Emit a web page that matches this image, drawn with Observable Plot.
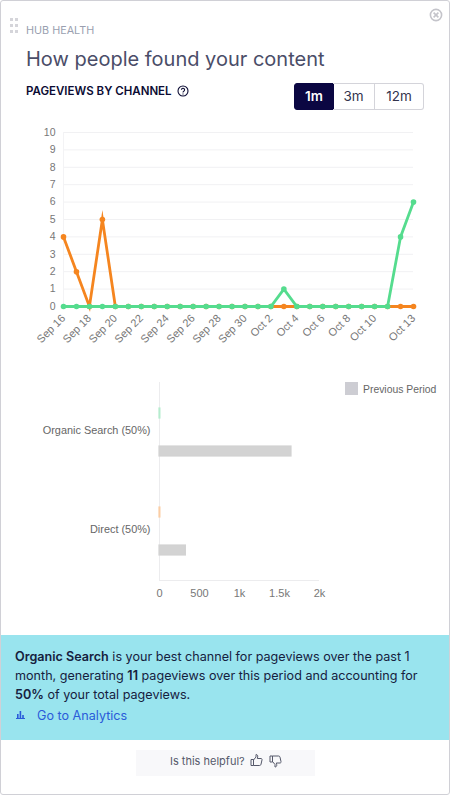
<!DOCTYPE html>
<html><head><meta charset="utf-8">
<script src="https://cdn.jsdelivr.net/npm/d3@7"></script>
<script src="https://cdn.jsdelivr.net/npm/@observablehq/plot@0.6"></script>
<style>
html,body{margin:0;padding:0;background:#fff}
#card{position:relative;width:450px;height:795px;overflow:hidden;font-family:Inter,sans-serif;background:#fff}
#frame{position:absolute;left:0;top:0;width:448px;height:793px;border:1px solid #d0d0d6;border-radius:3px;pointer-events:none;z-index:5}
.a{position:absolute;white-space:nowrap}
#line,#bars{position:absolute;left:0}
#line{top:120px}#bars{top:369px}
svg text{font-family:"Liberation Sans",Arial,sans-serif}
.btn{position:absolute;top:83px;height:25px;line-height:25px;text-align:center;font-size:13.5px;color:#33334d;border:1px solid #d4d4da;box-sizing:content-box}
#band{position:absolute;left:1px;top:635px;width:448px;height:105px;background:#99e4ee}
#band div{position:absolute;left:14px;white-space:nowrap;font-size:12.6px;color:#16213e}
#band b{font-weight:600}
</style></head><body>
<div id="card">
<div id="frame"></div>
<svg class="a" style="left:10px;top:18px" width="8" height="16" fill="#d5d5da"><rect x="0" y="0" width="3" height="3"/><rect x="5" y="0" width="3" height="3"/><rect x="0" y="6" width="3" height="3"/><rect x="5" y="6" width="3" height="3"/><rect x="0" y="12" width="3" height="3"/><rect x="5" y="12" width="3" height="3"/></svg>
<svg class="a" style="left:429px;top:8px" width="14" height="14" fill="none" stroke="#c4c4ca" stroke-width="1.6"><circle cx="7" cy="7" r="5.6"/><path d="M4.6 4.6L9.4 9.4M9.4 4.6L4.6 9.4"/></svg>
<div class="a" style="left:26px;top:24px;font-size:10.8px;line-height:14px;color:#9a9fb0">HUB HEALTH</div>
<div class="a" style="left:26px;top:47px;font-size:20px;line-height:24px;color:#4a4d68">How people found your content</div>
<div class="a" style="left:26px;top:84px;font-size:11.5px;line-height:14px;font-weight:600;color:#0b0b33">PAGEVIEWS BY CHANNEL</div>
<svg class="a" style="left:177px;top:85px" width="12" height="12" fill="none" stroke="#0b0b33" stroke-width="1.1"><circle cx="6" cy="6" r="5"/><path d="M4.4 4.8a1.6 1.6 0 1 1 2.4 1.400c-.6.3-.8.6-.8 1.200"/><path d="M6 8.600v.9"/></svg>
<div class="btn" style="left:294px;width:38px;background:#0b0742;color:#fff;font-weight:600;border-color:#0b0742;border-radius:3px 0 0 3px">1m</div>
<div class="btn" style="left:333px;width:41px;border-left:0">3m</div>
<div class="btn" style="left:375px;width:48px;border-left:0;border-radius:0 3px 3px 0">12m</div>
<div id="line"></div>
<div id="bars"></div>
<div class="a" style="left:159px;top:580px;width:160px;height:1px;background:#ececee"></div>
<svg class="a" style="left:345px;top:382px" width="13" height="13"><rect width="13" height="13" fill="#cdcdd3"/></svg>
<div class="a" style="left:363px;top:383px;font:10.4px/13px 'Liberation Sans',Arial,sans-serif;color:#666">Previous Period</div>
<div id="band">
<div style="top:13px;line-height:18px"><b>Organic Search</b> is your best channel for pageviews over the past 1</div>
<div style="top:32px;line-height:18px">month, generating <b>11</b> pageviews over this period and accounting for</div>
<div style="top:51px;line-height:18px"><b>50%</b> of your total pageviews.</div>
<svg style="position:absolute;left:15px;top:75px" width="10" height="10" fill="#2a5bd9"><rect x="0" y="8" width="9" height="1"/><rect x="1" y="4" width="1.6" height="4"/><rect x="3.6" y="1" width="1.6" height="7"/><rect x="6.2" y="5" width="1.6" height="3"/></svg>
<div style="left:36px;top:72px;line-height:18px;color:#2a5bd9">Go to Analytics</div>
</div>
<div class="a" style="left:136px;top:750px;width:179px;height:26px;background:#f8f8fa"></div>
<div class="a" style="left:170px;top:754px;font-size:11px;line-height:15px;color:#55586a">Is this helpful?</div>
<svg class="a" style="left:250px;top:753px" width="13" height="14" fill="none" stroke="#55586a" stroke-width="1"><path d="M1 6.500h2.500v6H1zM3.500 7l2.500-3V1.500c1.200 0 2 1 1.700 2.400L7.300 5.500H11c.8 0 1.200.7 1 1.400l-1 4.400c-.2.7-.6 1.200-1.400 1.200H3.500"/></svg>
<svg class="a" style="left:269px;top:755px" width="13" height="14" fill="none" stroke="#55586a" stroke-width="1"><path d="M1 1h2.500v6H1zM3.500 6.500l2.500 3v2.500c1.200 0 2-1 1.700-2.400L7.300 8H11c.8 0 1.200-.7 1-1.400L11 2.200C10.800 1.500 10.400 1 9.600 1H3.500"/></svg>
</div>
<script>
const dates = ["2023-09-16","2023-09-17","2023-09-18","2023-09-19","2023-09-20","2023-09-21","2023-09-22","2023-09-23","2023-09-24","2023-09-25","2023-09-26","2023-09-27","2023-09-28","2023-09-29","2023-09-30","2023-10-01","2023-10-02","2023-10-03","2023-10-04","2023-10-05","2023-10-06","2023-10-07","2023-10-08","2023-10-09","2023-10-10","2023-10-11","2023-10-12","2023-10-13"].map(d=>new Date(d));
const directValues  = [4,2,0,5,0,0,0,0,0,0,0,0,0,0,0,0,0,0,0,0,0,0,0,0,0,0,0,0];
const organicValues = [0,0,0,0,0,0,0,0,0,0,0,0,0,0,0,0,0,1,0,0,0,0,0,0,0,0,4,6];
const tickDates = ["2023-09-16","2023-09-18","2023-09-20","2023-09-22","2023-09-24","2023-09-26","2023-09-28","2023-09-30","2023-10-02","2023-10-04","2023-10-06","2023-10-08","2023-10-10","2023-10-13"].map(d=>new Date(d));
const yTicks = [0,1,2,3,4,5,6,7,8,9,10];
const ORANGE="#f5851f", GREEN="#55dc8e";
const direct = dates.map((date,i)=>({date,value:directValues[i]}));
const organic = dates.map((date,i)=>({date,value:organicValues[i]}));
const fmt = d3.utcFormat("%b %-d");
const lineOpts = {x:"date",y:"value",strokeWidth:2.8,strokeLinejoin:"miter",strokeMiterlimit:10};

document.getElementById("line").append(Plot.plot({
  width:450,height:240,marginLeft:63,marginRight:37,marginTop:12,marginBottom:54,
  style:{background:"transparent",fontSize:"11px",overflow:"visible"},
  x:{type:"utc",domain:[dates[0],dates[dates.length-1]]},
  y:{domain:[0,10]},
  marks:[
    Plot.gridY(yTicks,{stroke:"#f1f1f3",strokeOpacity:1,strokeWidth:1}),
    Plot.ruleX([dates[0]],{stroke:"#f3f3f5"}),
    Plot.axisY(yTicks,{tickSize:0,tickPadding:8,label:null,color:"#777",fontSize:10.5}),
    Plot.axisX(tickDates,{tickSize:0,tickPadding:10,label:null,tickRotate:-45,tickFormat:fmt,color:"#777",fontSize:11}),
    Plot.line(direct,{...lineOpts,stroke:ORANGE}),
    Plot.dot(direct,{x:"date",y:"value",r:2.8,fill:ORANGE}),
    Plot.line(organic,{...lineOpts,stroke:GREEN}),
    Plot.dot(organic,{x:"date",y:"value",r:2.8,fill:GREEN})
  ]
}));

const channels = ["Organic Search (50%)","Direct (50%)"];
const currentValues = [11,11];
const previousValues = [1650,330];
const barColors = ["#b5ecce","#fbcda4"];
const xTickValues = [0,500,1000,1500,2000];
const xTickLabels = ["0","500","1k","1.5k","2k"];
const barRows = channels.flatMap((channel,i)=>[
  {channel,period:"current",value:currentValues[i],color:barColors[i]},
  {channel,period:"previous",value:previousValues[i],color:"#d3d3d3"}
]);
document.getElementById("bars").append(Plot.plot({
  width:450,height:240,marginLeft:159,marginRight:131,marginTop:12,marginBottom:29,
  style:{background:"transparent",fontSize:"11px",overflow:"visible"},
  x:{domain:[0,2000]},
  y:{domain:["current","gap","previous"],paddingInner:0.5,paddingOuter:0.25,insetTop:20,insetBottom:20,axis:null},
  fy:{domain:channels,padding:0},
  marks:[
    Plot.axisFy({anchor:"left",tickSize:0,tickPadding:9,label:null,color:"#666",fontSize:10.9,dy:-1.5}),
    Plot.axisX(xTickValues,{tickSize:0,tickPadding:9,label:null,color:"#777",fontSize:11,tickFormat:(d,i)=>xTickLabels[i]}),
    Plot.ruleX([0],{stroke:"#ececee"}),
    Plot.barX(barRows,{x:"value",y:"period",fy:"channel",fill:"color",stroke:"color",strokeWidth:1.2})
  ]
}));
</script>
</body></html>
